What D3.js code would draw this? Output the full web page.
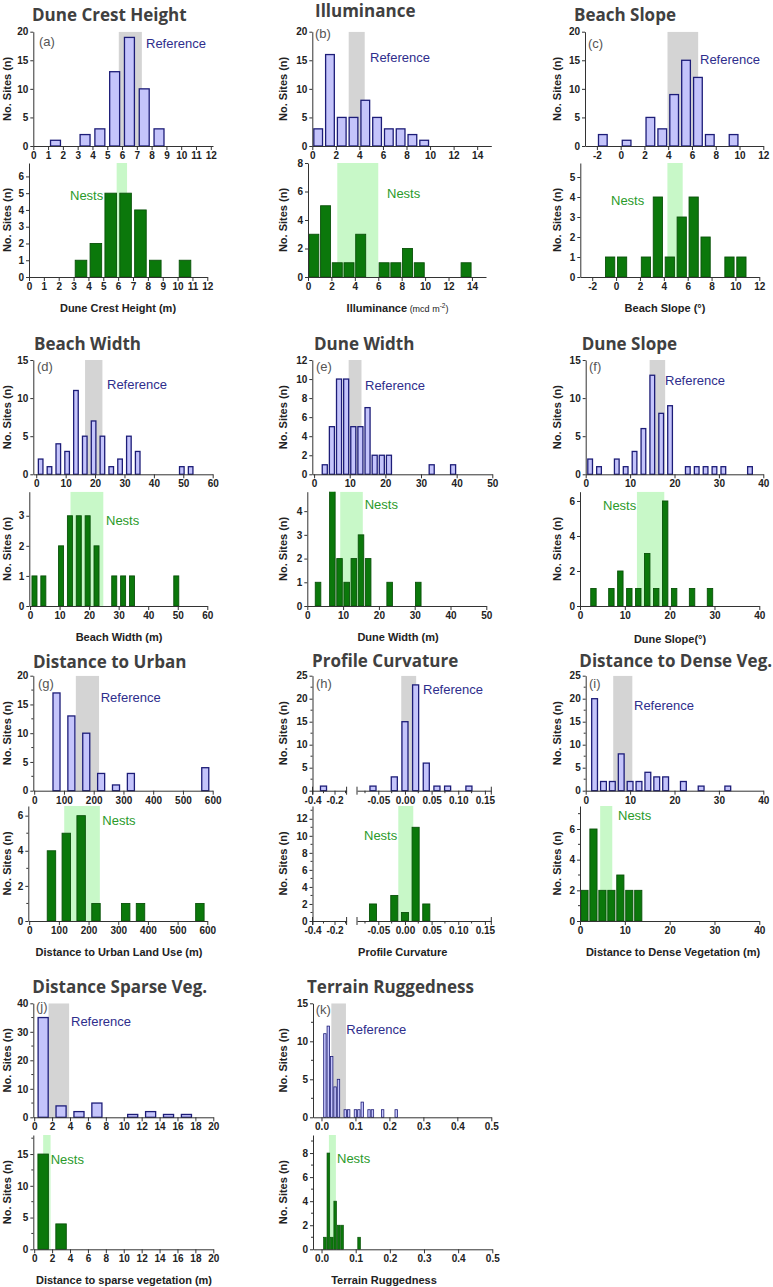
<!DOCTYPE html>
<html><head><meta charset="utf-8">
<script src="https://cdn.jsdelivr.net/npm/d3@7"></script>
<style>
body{margin:0;background:#fff;}
svg text{font-family:"Liberation Sans",Arial,sans-serif;}
.title{font-family:"Open Sans",sans-serif;font-weight:700;font-size:17px;fill:#404040;}
.tick text{font-weight:700;font-size:10px;fill:#222;font-family:"Liberation Sans",Arial,sans-serif;}
.ylab,.xlab{font-weight:700;font-size:11px;fill:#222;}
.domain,.tick line{stroke:#333;}
</style></head><body><svg id="c" width="773" height="1287"></svg>
<script>
// ---------------- DATA ----------------
// (a) Dune crest height
const crestBins=[1.5,3.5,4.5,5.5,6.5,7.5,8.5], crestRef=[1,2,3,13,19,10,3];
const crestNestBins=[3.5,4.5,5.5,6.5,7.5,8.5,10.5], crestNest=[1,2,5,5,4,1,1];
const crestRefBand=[5.78,7.34], crestNestBand=[5.9,6.6];
// (b) Illuminance
const illumBins=[0.5,1.5,2.5,3.5,4.5,5.5,6.5,7.5,8.5,9.5], illumRef=[3,16,5,5,8,5,3,3,2,1];
const illumNestBins=[0.5,1.5,2.5,3.5,4.5,6.5,7.5,8.5,9.5,13.5], illumNest=[3,5,1,1,3,1,1,2,1,1];
const illumRefBand=[3.09,4.45], illumNestBand=[2.5,6.0];
// (c) Beach slope
const bslopeBins=[-1.5,0.5,2.5,3.5,4.5,5.5,6.5,7.5,9.5], bslopeRef=[2,1,5,3,9,15,12,2,2];
const bslopeNestBins=[-0.5,0.5,2.5,3.5,4.5,5.5,6.5,7.5,9.5,10.5], bslopeNest=[1,1,1,4,1,3,4,2,1,1];
const bslopeRefBand=[3.94,6.52], bslopeNestBand=[4.3,5.58];
// (d) Beach width
const bwidthBins=[1.5,4.5,7.5,10.5,13.5,16.5,19.5,22.5,25.5,28.5,31.5,34.5,49.5,52.5], bwidthRef=[2,1,4,3,11,5,7,5,1,2,5,3,1,1];
const bwidthNestBins=[1.5,4.5,10.5,13.5,16.5,19.5,22.5,28.5,31.5,34.5,49.5], bwidthNest=[1,1,2,3,3,3,2,1,1,1,1];
const bwidthRefBand=[16.6,22.5], bwidthNestBand=[13.7,24.8];
// (e) Dune width
const dwidthBins=[3,5,7,9,11,13,15,17,19,21,33,39], dwidthRef=[1,5,10,10,5,5,7,2,2,2,1,1];
const dwidthNestBins=[3,7,9,11,13,15,17,23,31], dwidthNest=[1,5,2,1,2,3,2,1,1];
const dwidthRefBand=[9.7,13.3], dwidthNestBand=[9.2,15.5];
// (f) Dune slope
const dslopeBins=[1,3,7,9,11,13,15,17,19,23,25,27,29,31,37], dslopeRef=[2,1,2,1,3,6,13,8,9,1,1,1,1,1,1];
const dslopeNestBins=[3,7,9,11,13,15,17,19,21,25,29], dslopeNest=[1,1,2,1,1,3,1,6,1,1,1];
const dslopeRefBand=[14.4,17.9], dslopeNestBand=[12.7,18.8];
// (g) Distance to urban
const urbanBins=[75,125,175,225,275,325,575], urbanRef=[17,13,10,3,1,3,4];
const urbanNestBins=[75,125,175,225,325,375,575], urbanNest=[4,5,6,1,1,1,1];
const urbanRefBand=[140,218], urbanNestBand=[118,238];
// (h) Profile curvature
const curvBins=[-0.3,-0.06,-0.02,0,0.02,0.04,0.06,0.08,0.12], curvRef=[1,1,3,15,23,6,1,1,1];
const curvNestBins=[-0.06,-0.02,0,0.02,0.04], curvNest=[2,3,1,11,2];
const curvRefBand=[-0.007,0.021], curvNestBand=[-0.0125,0.0156];
// (i) Distance to dense vegetation
const denseBins=[2,4,6,8,10,12,14,16,18,22,26,32], denseRef=[20,2,2,8,2,2,4,3,3,2,1,1];
const denseNestBins=[1,3,5,7,9,11,13], denseNest=[2,6,2,2,3,2,2];
const denseRefBand=[6.2,10.5], denseNestBand=[4.5,7.2];
// (j) Distance to sparse vegetation
const sparseBins=[1,3,5,7,11,13,15,17], sparseRef=[35,4,2,5,1,2,1,1];
const sparseNestBins=[1,3], sparseNest=[15,4];
const sparseRefBand=[1.6,3.9], sparseNestBand=[1.0,1.83];
// (k) Terrain ruggedness
const rugBins=[0.01,0.02,0.03,0.04,0.05,0.07,0.08,0.10,0.11,0.12,0.14,0.15,0.18,0.22], rugRef=[11,12,8,4,5,1,1,1,1,2,1,1,1,1];
const rugNestBins=[0.01,0.02,0.03,0.04,0.05,0.06,0.11], rugNest=[1,8,1,4,2,2,1];
const rugRefBand=[0.029,0.072], rugNestBand=[0.0216,0.042];

// tick labels
const ticks0to12=[0,1,2,3,4,5,6,7,8,9,10,11,12];
const ticks0to14=[0,2,4,6,8,10,12,14];
const ticksM2to12=[-2,0,2,4,6,8,10,12];
const ticks0to60=[0,10,20,30,40,50,60];
const ticks0to50=[0,10,20,30,40,50];
const ticks0to40=[0,10,20,30,40];
const ticks0to600=[0,100,200,300,400,500,600];
const ticksCurvLeft=[-0.4,-0.2], ticksCurvRight=[-0.05,0,0.05,0.10,0.15];
const ticks0to20=[0,2,4,6,8,10,12,14,16,18,20];
const ticks0to05=[0,0.1,0.2,0.3,0.4,0.5];

const titles=["Dune Crest Height","Illuminance","Beach Slope","Beach Width","Dune Width","Dune Slope","Distance to Urban","Profile Curvature","Distance to Dense Veg.","Distance Sparse Veg.","Terrain Ruggedness"];
const tags=["(a)","(b)","(c)","(d)","(e)","(f)","(g)","(h)","(i)","(j)","(k)"];
const xLabels=["Dune Crest Height (m)",null,"Beach Slope (°)","Beach Width (m)","Dune Width (m)","Dune Slope(°)","Distance to Urban Land Use (m)","Profile Curvature","Distance to Dense Vegetation (m)","Distance to sparse vegetation (m)","Terrain Ruggedness"];

// ---------------- STYLE ----------------
const C={refFill:"#c4c4fb",refStroke:"#1d1d78",nestFill:"#0b780b",nestStroke:"#0a520a",
 gray:"#d4d4d4",green:"#c8f8c8",refText:"#2e2e8c",nestText:"#2a9a2a",tag:"#555"};

// ---------------- LAYOUT ----------------
const rng=(a,b,s)=>d3.range(a,b+s/2,s);
const P=[
 {ref:{bins:crestBins,n:crestRef,band:crestRefBand,xd:[0,12.15],xr:[33.3,213],yd:[0,20],yr:[146,31.7],xt:ticks0to12,yt:rng(0,20,5),bw:0.76},
  nest:{bins:crestNestBins,n:crestNest,band:crestNestBand,xd:[0,12],xr:[29,207.3],yd:[0,6.8],yr:[277,163],xt:ticks0to12,yt:rng(0,6,1),bw:0.84},
  ylx:7,title:[32,20.7],tag:[39,41],refLab:[146,43],nestLab:[70,195],xlab:[118,308]},
 {ref:{bins:illumBins,n:illumRef,band:illumRefBand,xd:[0,15.2],xr:[312.3,491.3],yd:[0,20],yr:[146,31.7],xt:ticks0to14,yt:rng(0,20,5),bw:0.85},
  nest:{bins:illumNestBins,n:illumNest,band:illumNestBand,xd:[0,15.2],xr:[308,486],yd:[0,8],yr:[277,163],xt:ticks0to14,yt:rng(0,8,2),bw:0.93},
  ylx:283,title:[315,16.5],tag:[315,33],refLab:[370,57],nestLab:[387,193],xlab:[397.5,308]},
 {ref:{bins:bslopeBins,n:bslopeRef,band:bslopeRefBand,xd:[-3,12],xr:[585,763.3],yd:[0,20],yr:[146,31.7],xt:ticksM2to12,yt:rng(0,20,5),bw:0.84},
  nest:{bins:bslopeNestBins,n:bslopeNest,band:bslopeNestBand,xd:[-3,12],xr:[580.3,759.3],yd:[0,5.7],yr:[277,163],xt:ticksM2to12,yt:rng(0,5,1),bw:0.85},
  ylx:557,title:[574,20.7],tag:[588,43],refLab:[700,59],nestLab:[611,200],xlab:[665,308]},
 {ref:{bins:bwidthBins,n:bwidthRef,band:bwidthRefBand,xd:[-1,60],xr:[33.3,212.7],yd:[0,15],yr:[474.3,360],xt:ticks0to60,yt:rng(0,15,5),bw:2.0},
  nest:{bins:bwidthNestBins,n:bwidthNest,band:bwidthNestBand,xd:[-0.25,60],xr:[29.3,207.3],yd:[0,3.8],yr:[606,491.7],xt:ticks0to60,yt:rng(0,3,1),bw:2.0},
  ylx:7,title:[34,350],tag:[37,366],refLab:[107,384],nestLab:[106,520.7],xlab:[119,637]},
 {ref:{bins:dwidthBins,n:dwidthRef,band:dwidthRefBand,xd:[-0.5,50],xr:[312.3,492.3],yd:[0,12],yr:[474.3,360],xt:ticks0to50,yt:rng(0,12,2),bw:1.78},
  nest:{bins:dwidthNestBins,n:dwidthNest,band:dwidthNestBand,xd:[0,50],xr:[307.3,486.3],yd:[0,4.82],yr:[606,491.7],xt:ticks0to50,yt:rng(0,4,1),bw:1.8},
  ylx:283,title:[314,350],tag:[316,366.7],refLab:[365,385],nestLab:[364.7,504.5],xlab:[398,637]},
 {ref:{bins:dslopeBins,n:dslopeRef,band:dslopeRefBand,xd:[0,40],xr:[585.7,763.3],yd:[0,15],yr:[474.3,360],xt:ticks0to40,yt:rng(0,15,5),bw:1.35},
  nest:{bins:dslopeNestBins,n:dslopeNest,band:dslopeNestBand,xd:[0,40],xr:[580,759.3],yd:[0,6.53],yr:[606,491.7],xt:ticks0to40,yt:rng(0,6,2),bw:1.41},
  ylx:557,title:[581.7,350],tag:[589,366.7],refLab:[665,380],nestLab:[603,505.7],xlab:[670,639]},
 {ref:{bins:urbanBins,n:urbanRef,band:urbanRefBand,xd:[-3,600],xr:[33.3,212.7],yd:[0,20],yr:[790.7,675.7],xt:ticks0to600,yt:rng(0,20,5),minor:2.5,bw:28},
  nest:{bins:urbanNestBins,n:urbanNest,band:urbanNestBand,xd:[-3,600],xr:[28.3,207.3],yd:[0,6.55],yr:[921,806],xt:ticks0to600,yt:rng(0,6,2),minor:1,bw:31.5},
  ylx:7,title:[33,667.7],tag:[38,683],refLab:[100.7,697.7],nestLab:[102.3,820],xlab:[119,951.7]},
 {ref:{bins:curvBins,n:curvRef,band:curvRefBand,broken:true,yd:[0,25],yr:[790.7,675.7],yt:rng(0,25,5),minor:2.5,bw:0.0138},
  nest:{bins:curvNestBins,n:curvNest,band:curvNestBand,broken:true,yd:[0,13.5],yr:[921,806],yt:rng(0,12,2),minor:1,bw:0.015},
  ylx:283,title:[312,667],tag:[316,683],refLab:[423,689.3],nestLab:[364,835.7],xlab:[402.7,951.7]},
 {ref:{bins:denseBins,n:denseRef,band:denseRefBand,xd:[0,40],xr:[585.7,763.3],yd:[0,25],yr:[790.7,675.7],xt:ticks0to40,yt:rng(0,25,5),minor:2.5,bw:1.6},
  nest:{bins:denseNestBins,n:denseNest,band:denseNestBand,xd:[0,40],xr:[580,759.3],yd:[0,7.5],yr:[921,806],xt:ticks0to40,yt:rng(0,6,2),minor:1,bw:1.8},
  ylx:557,title:[579.3,667],tag:[589,683],refLab:[634,705],nestLab:[618,815],xlab:[673,951.7]},
 {ref:{bins:sparseBins,n:sparseRef,band:sparseRefBand,xd:[-0.1,20],xr:[33.3,213.3],yd:[0,40],yr:[1117.3,1003.3],xt:ticks0to20,yt:rng(0,40,10),minor:5,bw:1.27},
  nest:{bins:sparseNestBins,n:sparseNest,band:sparseNestBand,xd:[-0.1,20],xr:[33.3,213.3],yd:[0,18],yr:[1249.3,1135],xt:ticks0to20,yt:rng(0,15,5),minor:2.5,bw:1.27},
  ylx:7,title:[32.3,992.7],tag:[36,1006.7],refLab:[71,1021.7],nestLab:[50.7,1159],xlab:[124,1280]},
 {ref:{bins:rugBins,n:rugRef,band:rugRefBand,xd:[-0.025,0.5],xr:[313,491.3],yd:[0,15],yr:[1117.3,1003.3],xt:ticks0to05,yt:rng(0,15,5),minor:2.5,bw:0.0095,sw:0.8,fmt:".1f"},
  nest:{bins:rugNestBins,n:rugNest,band:rugNestBand,xd:[-0.025,0.5],xr:[313,492.3],yd:[0,9.5],yr:[1249.3,1135],xt:ticks0to05,yt:rng(0,8,2),minor:1,bw:0.0098,sw:0.7,fmt:".1f"},
  ylx:283,title:[307,992.7],tag:[315.7,1009],refLab:[346.3,1029.3],nestLab:[337,1158.3],xlab:[384,1280]}
];

const svg=d3.select("#c");
let clipN=0;
const hy=s=>String(s).replace("\u2212","-");

function styleAxis(sel){
  sel.selectAll(".domain").attr("stroke","#333").attr("stroke-width",1);
  sel.selectAll(".tick line").attr("stroke","#333");
  sel.selectAll(".tick text").attr("fill","#222");
}

function drawSub(s,isRef){
  const g=svg.append("g");
  const y=d3.scaleLinear().domain(s.yd).range(s.yr);
  let xf,bwPx,x0,x1,axes=[];
  if(s.broken){
    const xL=d3.scaleLinear().domain([-0.4,-0.09]).range([312.5,346.6]);
    const xR=d3.scaleLinear().domain([-0.09,0.162]).range([357,491.3]);
    xf=v=>v< -0.09?xL(v):xR(v);
    bwPx=xR(s.bw)-xR(0); x0=312.5; x1=491.3;
    axes.push({sc:xL,t:ticksCurvLeft,f:".1f",minor:[-0.3,-0.1]});
    axes.push({sc:xR,t:ticksCurvRight,f:".2f",minor:[-0.075,-0.025,0.025,0.075,0.125]});
  } else {
    const x=d3.scaleLinear().domain(s.xd).range(s.xr);
    xf=x; bwPx=x(s.bw)-x(0); x0=s.xr[0]; x1=s.xr[1];
    axes.push({sc:x,t:s.xt,f:s.fmt||"d"});
  }
  const sw=s.sw!=null?s.sw:(isRef?1.3:0.9);
  const id="clip"+(clipN++);
  svg.append("clipPath").attr("id",id).append("rect")
    .attr("x",x0).attr("y",s.yr[1]).attr("width",x1-x0).attr("height",s.yr[0]-s.yr[1]+2);
  const pg=g.append("g").attr("clip-path",`url(#${id})`);
  pg.append("rect").attr("x",xf(s.band[0])).attr("width",xf(s.band[1])-xf(s.band[0]))
    .attr("y",s.yr[1]).attr("height",s.yr[0]-s.yr[1]).attr("fill",isRef?C.gray:C.green);
  pg.selectAll("rect.bar").data(d3.zip(s.bins,s.n)).join("rect").attr("class","bar")
    .attr("x",d=>xf(d[0])-bwPx/2+sw/2).attr("width",bwPx-sw)
    .attr("y",d=>y(d[1])).attr("height",d=>y(0)-y(d[1]))
    .attr("fill",isRef?C.refFill:C.nestFill)
    .attr("stroke",isRef?C.refStroke:C.nestStroke).attr("stroke-width",sw);
  axes.forEach(a=>{
    const ax=d3.axisBottom(a.sc).tickValues(a.t).tickSize(4).tickPadding(2).tickSizeOuter(0)
      .tickFormat(v=>hy(d3.format(a.f)(v)));
    const ag=g.append("g").attr("transform",`translate(0,${s.yr[0]})`).call(ax);
    styleAxis(ag);
    if(s.broken){
      const r=a.sc.range();
      ag.append("line").attr("x1",r[0]).attr("x2",r[0]).attr("y1",-4).attr("y2",4).attr("stroke","#333");
      ag.append("line").attr("x1",r[1]).attr("x2",r[1]).attr("y1",-4).attr("y2",4).attr("stroke","#333");
      a.minor.forEach(m=>ag.append("line").attr("x1",a.sc(m)).attr("x2",a.sc(m)).attr("y1",0).attr("y2",2.5).attr("stroke","#333"));
    }
  });
  const yax=d3.axisLeft(y).tickValues(s.yt).tickSize(3).tickPadding(2).tickSizeOuter(0).tickFormat(d3.format("d"));
  const yg=g.append("g").attr("transform",`translate(${x0},0)`).call(yax);
  styleAxis(yg);
  if(s.minor){
    const mv=d3.range(s.minor,s.yd[1],s.minor*2);
    yg.selectAll("line.minor").data(mv).join("line").attr("class","minor")
      .attr("x1",-2).attr("x2",0).attr("y1",d=>y(d)).attr("y2",d=>y(d)).attr("stroke","#333");
  }
  return {yc:(s.yr[0]+s.yr[1])/2};
}

P.forEach((p,i)=>{
  const r=drawSub(p.ref,true), n=drawSub(p.nest,false);
  [r.yc,n.yc].forEach(yc=>{
    svg.append("text").attr("class","ylab").attr("text-anchor","middle")
      .attr("transform",`translate(${p.ylx},${yc}) rotate(-90)`).attr("dy","0.35em").text("No. Sites (n)");
  });
  svg.append("text").attr("class","title").attr("x",p.title[0]).attr("y",p.title[1]).text(titles[i]);
  svg.append("text").attr("x",p.tag[0]).attr("y",p.tag[1]).attr("dy","0.35em")
    .attr("font-size",13).attr("fill",C.tag).text(tags[i]);
  svg.append("text").attr("x",p.refLab[0]).attr("y",p.refLab[1]).attr("dy","0.35em")
    .attr("font-size",13).attr("fill",C.refText).text("Reference");
  svg.append("text").attr("x",p.nestLab[0]).attr("y",p.nestLab[1]).attr("dy","0.35em")
    .attr("font-size",13).attr("fill",C.nestText).text("Nests");
  if(xLabels[i]){
    svg.append("text").attr("class","xlab").attr("text-anchor","middle")
      .attr("x",p.xlab[0]).attr("y",p.xlab[1]).attr("dy","0.35em").text(xLabels[i]);
  } else {
    const t=svg.append("text").attr("class","xlab").attr("text-anchor","middle")
      .attr("x",p.xlab[0]).attr("y",p.xlab[1]).attr("dy","0.35em");
    t.append("tspan").text("Illuminance");
    t.append("tspan").attr("font-weight",400).attr("font-size",9).text(" (mcd m");
    t.append("tspan").attr("font-weight",400).attr("font-size",6.5).attr("dy",-4).text("-2");
    t.append("tspan").attr("font-weight",400).attr("font-size",9).attr("dy",4).text(")");
  }
});
</script></body></html>
